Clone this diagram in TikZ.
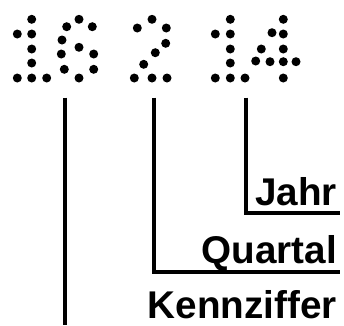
\documentclass[tikz,border=0pt]{standalone}
\usepackage{fontspec}
\setmainfont{Liberation Sans}
\usetikzlibrary{calc}

\tikzset{
  punkt/.style={fill=black},
  klammer/.style={line width=3.1pt},
  beschr/.style={inner sep=0pt,anchor=base east,font=\fontsize{33}{33}\selectfont\bfseries}
}

\begin{document}
\begin{tikzpicture}[x=0.03cm,y=-0.03cm]
\useasboundingbox (0,0) rectangle (344,325);
\foreach \p in {(31.7,19.3),(17.3,34),(31.7,34),(31.7,49),(31.7,63),(17.3,78),(31.7,78),(46.7,78)}
  \fill[punkt] \p circle (0.135cm);
\foreach \p in {(79,19.3),(66.7,26.7),(92.3,26.7),(62,40),(79,47.3),(61.3,54),(93.7,54),(64.3,69.3),(93.7,69.3),(79,78)}
  \fill[punkt] \p circle (0.135cm);
\foreach \p in {(152,19.3),(137.3,28),(166.3,28),(165.7,43.3),(155.3,52.7),(143.7,64.3),(134.3,78),(152,78),(167,78)}
  \fill[punkt] \p circle (0.135cm);
\foreach \p in {(230.3,19.3),(215.3,34),(230.3,34),(230.3,49),(230.3,63),(215.3,78),(230.3,78),(245,78)}
  \fill[punkt] \p circle (0.135cm);
\foreach \p in {(283.3,19.3),(272,32.7),(283.3,34),(261.3,49),(283.3,49),(255.7,61),(270,61.7),(283.3,61.7),(296,61.7),(283.3,78)}
  \fill[punkt] \p circle (0.135cm);
\node[beschr] (jahr) at (337,205.7) {Jahr};
\node[beschr] (quartal) at (337,263) {Quartal};
\node[beschr] (kennziffer) at (337,318) {Kennziffer};
\coordinate (kz) at (65,97.7);
\coordinate (kzende) at (65,325);
\coordinate (qu) at (153.7,97.7);
\coordinate (quende) at (340,271.7);
\coordinate (ja) at (246.3,97.7);
\coordinate (jaende) at (340,212.7);
\draw[klammer] (kz) -- (kzende);
\draw[klammer] (qu) |- (quende);
\draw[klammer] (ja) |- (jaende);
\end{tikzpicture}
\end{document}
